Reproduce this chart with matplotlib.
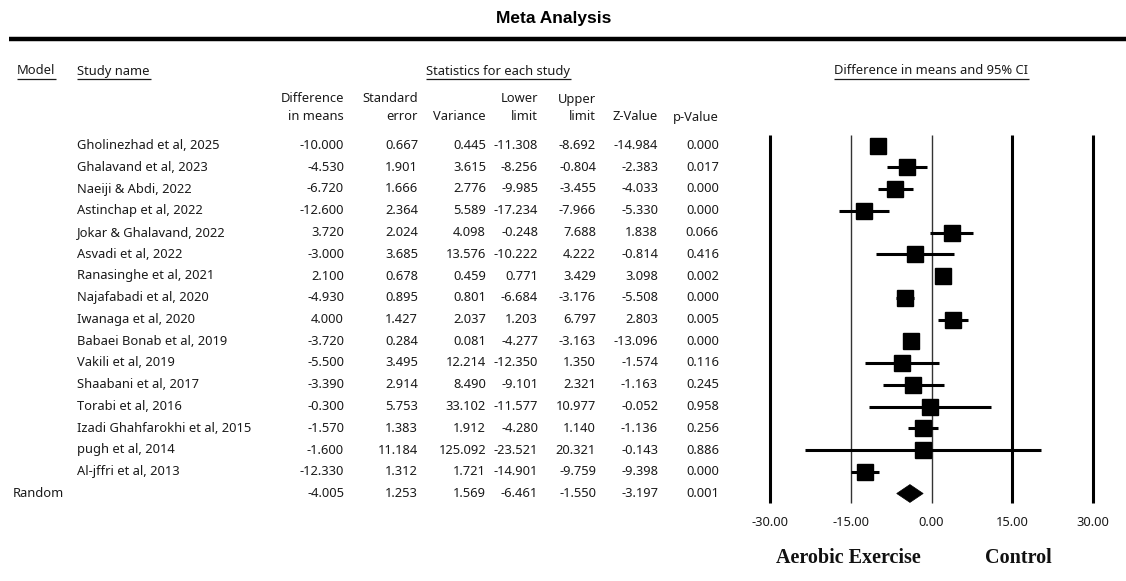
import matplotlib
matplotlib.use("Agg")
import matplotlib.pyplot as plt
from matplotlib.patches import Polygon

# ---------------- data ----------------
studies = ["Gholinezhad et al, 2025", "Ghalavand et al, 2023", "Naeiji & Abdi, 2022",
           "Astinchap et al, 2022", "Jokar & Ghalavand, 2022", "Asvadi et al, 2022",
           "Ranasinghe et al, 2021", "Najafabadi et al, 2020", "Iwanaga et al, 2020",
           "Babaei Bonab et al, 2019", "Vakili et al, 2019", "Shaabani et al, 2017",
           "Torabi et al, 2016", "Izadi Ghahfarokhi et al, 2015", "pugh et al, 2014",
           "Al-jffri et al, 2013"]
diff_means = [-10.000, -4.530, -6.720, -12.600, 3.720, -3.000, 2.100, -4.930, 4.000,
              -3.720, -5.500, -3.390, -0.300, -1.570, -1.600, -12.330]
std_error = [0.667, 1.901, 1.666, 2.364, 2.024, 3.685, 0.678, 0.895, 1.427,
             0.284, 3.495, 2.914, 5.753, 1.383, 11.184, 1.312]
variance = [0.445, 3.615, 2.776, 5.589, 4.098, 13.576, 0.459, 0.801, 2.037,
            0.081, 12.214, 8.490, 33.102, 1.912, 125.092, 1.721]
lower_limit = [-11.308, -8.256, -9.985, -17.234, -0.248, -10.222, 0.771, -6.684, 1.203,
               -4.277, -12.350, -9.101, -11.577, -4.280, -23.521, -14.901]
upper_limit = [-8.692, -0.804, -3.455, -7.966, 7.688, 4.222, 3.429, -3.176, 6.797,
               -3.163, 1.350, 2.321, 10.977, 1.140, 20.321, -9.759]
z_value = [-14.984, -2.383, -4.033, -5.330, 1.838, -0.814, 3.098, -5.508, 2.803,
           -13.096, -1.574, -1.163, -0.052, -1.136, -0.143, -9.398]
p_value = [0.000, 0.017, 0.000, 0.000, 0.066, 0.416, 0.002, 0.000, 0.005,
           0.000, 0.116, 0.245, 0.958, 0.256, 0.886, 0.000]

random_label = "Random"
random_stats = {"diff": -4.005, "se": 1.253, "var": 1.569, "lower": -6.461,
                "upper": -1.550, "z": -3.197, "p": 0.001}

tick_values = [-30, -15, 0, 15, 30]
tick_labels = ["-30.00", "-15.00", "0.00", "15.00", "30.00"]
col_headers = [("Difference", "in means"), ("Standard", "error"), ("", "Variance"),
               ("Lower", "limit"), ("Upper", "limit"), ("", "Z-Value"), ("", "p-Value")]
left_label = "Aerobic Exercise"
right_label = "Control"

# ---------------- layout ----------------
W, H = 1126, 581
fig = plt.figure(figsize=(W / 100, H / 100), dpi=100)
ax = fig.add_axes([0, 0, 1, 1])
ax.set_xlim(0, W)
ax.set_ylim(H, 0)
ax.axis("off")

ROW0, DROW = 145.5, 21.75
def row_y(i):
    return ROW0 + DROW * i

FONT = "Noto Sans"
FS = 9.3
TXT = "#1a1a1a"

# title and thick rule
ax.text(554, 18, "Meta Analysis", ha="center", va="center", fontsize=12.5,
        fontweight="bold", family="Liberation Sans", color="black")
ax.plot([9, W], [39, 39], color="black", lw=3.2, solid_capstyle="butt")

# underlined headers
hdrs = [("Model", 17, "left"), ("Study name", 77, "left"),
        ("Statistics for each study", 498, "center"),
        ("Difference in means and 95% CI", 931, "center")]
hdr_texts = []
for s, x, ha in hdrs:
    t = ax.text(x, 71, s, ha=ha, va="center", fontsize=FS, family=FONT, color=TXT)
    hdr_texts.append(t)

# column headers (right aligned)
col_right = [344, 418, 486, 538, 596, 658, 719]
for (l1, l2), xr in zip(col_headers, col_right):
    if l1:
        ax.text(xr, 99, l1, ha="right", va="center", fontsize=FS, family=FONT, color=TXT)
    ax.text(xr, 117, l2, ha="right", va="center", fontsize=FS, family=FONT, color=TXT)

# study rows
cols = [diff_means, std_error, variance, lower_limit, upper_limit, z_value, p_value]
for i, name in enumerate(studies):
    y = row_y(i)
    ax.text(77, y, name, ha="left", va="center", fontsize=FS, family=FONT, color=TXT)
    for vals, xr in zip(cols, col_right):
        ax.text(xr, y, f"{vals[i]:.3f}", ha="right", va="center", fontsize=FS,
                family=FONT, color=TXT)

# random row
yr = row_y(len(studies))
ax.text(13, yr, random_label, ha="left", va="center", fontsize=FS, family=FONT, color=TXT)
rvals = [random_stats[k] for k in ["diff", "se", "var", "lower", "upper", "z", "p"]]
for v, xr in zip(rvals, col_right):
    ax.text(xr, yr, f"{v:.3f}", ha="right", va="center", fontsize=FS, family=FONT, color=TXT)

# ---------------- forest plot ----------------
fx0, fx1 = 770, 1093
fa = fig.add_axes([fx0 / W, 0, (fx1 - fx0) / W, 1])
fa.set_xlim(-30, 30)
fa.set_ylim((H - ROW0) / DROW, -ROW0 / DROW)
fa.axis("off")
fa.patch.set_alpha(0)

ytop = (135 - ROW0) / DROW
ybot = (503 - ROW0) / DROW
for v in tick_values:
    thick = v in (-30, 15, 30)
    fa.plot([v, v], [ytop, ybot], color="black" if thick else "#333333",
            lw=2.2 if thick else 1.0, solid_capstyle="butt", clip_on=False)

for i in range(len(studies)):
    fa.plot([lower_limit[i], upper_limit[i]], [i, i], color="black", lw=2.2,
            solid_capstyle="butt", clip_on=False)
    fa.plot(diff_means[i], i, marker="s", ms=11.5, color="black", mec="black",
            clip_on=False)

n = len(studies)
hh = 0.41
dia = Polygon([(random_stats["lower"], n), (random_stats["diff"], n - hh),
               (random_stats["upper"], n), (random_stats["diff"], n + hh)],
              closed=True, facecolor="black", edgecolor="black", lw=0.5)
fa.add_patch(dia)

ytick = (523 - ROW0) / DROW
for v, lab in zip(tick_values, tick_labels):
    fa.text(v, ytick, lab, ha="center", va="center", fontsize=FS, family=FONT, color=TXT)

ax.text(848, 558, left_label, ha="center", va="center", fontsize=14.5,
        fontweight="bold", family="Liberation Serif", color="#111111")
ax.text(1018, 558, right_label, ha="center", va="center", fontsize=14.5,
        fontweight="bold", family="Liberation Serif", color="#111111")

# underline headers
fig.canvas.draw()
r = fig.canvas.get_renderer()
inv = ax.transData.inverted()
for t in hdr_texts:
    bb = t.get_window_extent(r)
    (x0, _), (x1, _) = inv.transform([(bb.x0, bb.y0), (bb.x1, bb.y1)])
    ax.plot([x0, x1 + 1], [79, 79], color=TXT, lw=0.9, solid_capstyle="butt")

fig.savefig("out.png", dpi=100)
